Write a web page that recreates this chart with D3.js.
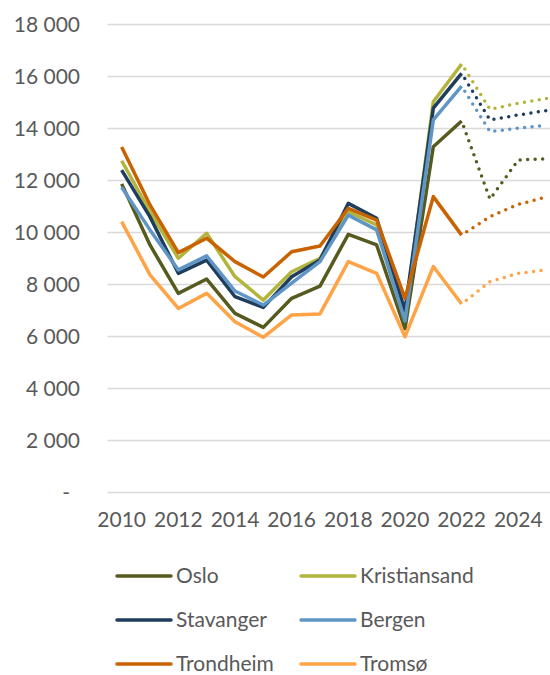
<!DOCTYPE html>
<html>
<head>
<meta charset="utf-8">
<script src="https://cdn.jsdelivr.net/npm/d3@7"></script>
<style>
  body { margin: 0; background: #fff; }
  svg { display: block; font-family: Lato, "Open Sans", sans-serif; }
</style>
</head>
<body>
<svg id="chart" width="550" height="675"></svg>
<script>
const years = d3.range(2010, 2026);
const forecastFrom = 2022;
const yTicks = [0, 2000, 4000, 6000, 8000, 10000, 12000, 14000, 16000, 18000];
const xTicks = [2010, 2012, 2014, 2016, 2018, 2020, 2022, 2024];

const cities = ["Oslo", "Kristiansand", "Stavanger", "Bergen", "Trondheim", "Tromsø"];
const oslo =         [11870, 9520, 7660, 8210, 6890, 6350, 7470, 7940, 9930, 9520, 6300, 13300, 14290, 11280, 12790, 12830];
const kristiansand = [12760, 10800, 9010, 9970, 8300, 7400, 8490, 9010, 10800, 10290, 6800, 15030, 16480, 14740, 14970, 15150];
const stavanger =    [12400, 10600, 8430, 8940, 7530, 7120, 8300, 8940, 11120, 10550, 7000, 14780, 16120, 14330, 14520, 14690];
const bergen =       [11740, 10100, 8560, 9100, 7750, 7210, 8050, 8880, 10670, 10100, 6600, 14330, 15630, 13880, 14010, 14120];
const trondheim =    [13290, 11060, 9225, 9780, 8880, 8290, 9260, 9480, 10930, 10480, 7470, 11380, 9900, 10610, 11080, 11370];
const tromso =       [10420, 8370, 7080, 7660, 6570, 5970, 6830, 6870, 8880, 8430, 5990, 8690, 7250, 8110, 8430, 8560];

const seriesValues = [oslo, kristiansand, stavanger, bergen, trondheim, tromso];
const colors = ["#575a1f", "#b3b43b", "#1f3d5c", "#6096c6", "#c96200", "#ffa347"];

const svg = d3.select("#chart");

const x = d3.scaleBand()
    .domain(years)
    .range([107.5, 560.8]);
const y = d3.scaleLinear()
    .domain([0, 18000])
    .range([492.5, 24.5]);

const cx = d => x(d) + x.bandwidth() / 2;

// gridlines
svg.append("g")
    .selectAll("line")
    .data(yTicks)
    .enter()
    .append("line")
    .attr("x1", 107.5)
    .attr("x2", 550)
    .attr("y1", d => y(d))
    .attr("y2", d => y(d))
    .attr("stroke", "#d9d9d9")
    .attr("stroke-width", 1.3);

// y axis labels
const locale = d3.formatLocale({ decimal: ",", thousands: " ", grouping: [3], currency: ["", ""] });
const fmt = locale.format(",d");
const yAxis = svg.append("g")
    .attr("transform", "translate(80,0)")
    .call(d3.axisLeft(y).tickValues(yTicks).tickSize(0).tickPadding(0)
        .tickFormat(d => d === 0 ? "-" : fmt(d)));
yAxis.select(".domain").remove();
yAxis.selectAll("text")
    .attr("font-size", 21)
    .attr("font-family", "Lato, sans-serif")
    .attr("fill", "#595959");
yAxis.selectAll(".tick")
    .filter(d => d === 0)
    .select("text")
    .attr("x", -10);

// x axis labels
const xAxis = svg.append("g")
    .attr("transform", "translate(0,492.5)")
    .call(d3.axisBottom(x).tickValues(xTicks).tickSize(0).tickPadding(20));
xAxis.select(".domain").remove();
xAxis.selectAll("text")
    .attr("font-size", 21)
    .attr("font-family", "Lato, sans-serif")
    .attr("fill", "#595959");

// lines
const line = d3.line()
    .x(d => cx(d.year))
    .y(d => y(d.value));

const plot = svg.append("g");

seriesValues.forEach((vals, i) => {
    const pts = years.map((yr, j) => ({ year: yr, value: vals[j] }));
    plot.append("path")
        .datum(pts.filter(p => p.year <= forecastFrom))
        .attr("d", line)
        .attr("fill", "none")
        .attr("stroke", colors[i])
        .attr("stroke-width", 3.5)
        .attr("stroke-linejoin", "round");
    plot.append("path")
        .datum(pts.filter(p => p.year >= forecastFrom))
        .attr("d", line)
        .attr("fill", "none")
        .attr("stroke", colors[i])
        .attr("stroke-width", 3.5)
        .attr("stroke-linecap", "round")
        .attr("stroke-dasharray", "0,7.5")
        .attr("stroke-dashoffset", -6);
});

// legend
const legend = svg.append("g");
cities.forEach((name, i) => {
    const col = i % 2, row = Math.floor(i / 2);
    const lx = col === 0 ? 117 : 301;
    const ly = 576 + row * 44;
    legend.append("line")
        .attr("x1", lx)
        .attr("x2", lx + 54)
        .attr("y1", ly)
        .attr("y2", ly)
        .attr("stroke", colors[i])
        .attr("stroke-width", 3.5)
        .attr("stroke-linecap", "round");
    legend.append("text")
        .attr("x", lx + 59)
        .attr("y", ly)
        .attr("dy", "0.35em")
        .attr("font-size", 21)
        .attr("fill", "#595959")
        .text(name);
});
</script>
</body>
</html>
